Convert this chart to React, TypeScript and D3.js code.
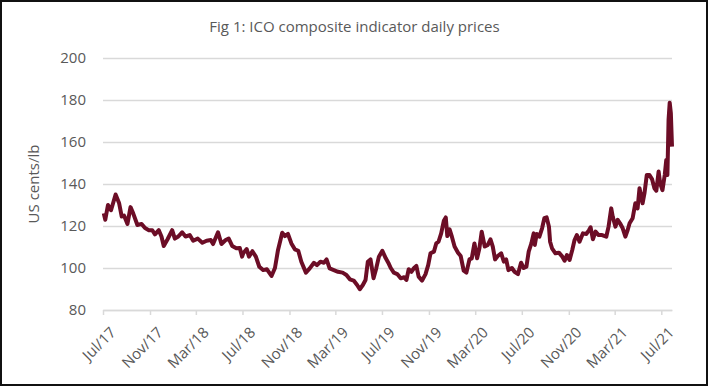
import * as d3 from 'd3';
import React, {useEffect, useRef} from "react";

const WIDTH = 709;
const HEIGHT = 387;
const MARGIN = {left: 103, right: 37, top: 58, bottom: 77};
const LINE_COLOR = "#6c0d26";
const TEXT_COLOR = "#595959";
const GRID_COLOR = "#d9d9d9";
const FONT = "'Open Sans', sans-serif";

const TITLE = "Fig 1: ICO composite indicator daily prices";
const Y_LABEL = "US cents/lb";
const Y_TICKS = [80, 100, 120, 140, 160, 180, 200];
const X_TICK_LABELS = ["Jul/17", "Nov/17", "Mar/18", "Jul/18", "Nov/18", "Mar/19", "Jul/19",
    "Nov/19", "Mar/20", "Jul/20", "Nov/20", "Mar/21", "Jul/21"];
const X_DOMAIN = ["2017-07-01", "2021-07-29"];

// ICO composite (US cents/lb)
const dates = [
    "2017-07-03", "2017-07-07", "2017-07-14", "2017-07-22", "2017-08-03", "2017-08-12", "2017-08-19", "2017-08-25",
    "2017-09-03", "2017-09-11", "2017-09-18", "2017-09-29", "2017-10-10", "2017-10-19", "2017-10-29", "2017-11-07",
    "2017-11-14", "2017-11-24", "2017-12-01", "2017-12-07", "2017-12-17", "2017-12-29", "2018-01-05", "2018-01-14",
    "2018-01-24", "2018-02-02", "2018-02-13", "2018-02-22", "2018-03-06", "2018-03-18", "2018-03-29", "2018-04-09",
    "2018-04-15", "2018-04-28", "2018-05-07", "2018-05-18", "2018-05-26", "2018-06-04", "2018-06-15", "2018-06-24",
    "2018-06-30", "2018-07-03", "2018-07-12", "2018-07-18", "2018-07-27", "2018-08-05", "2018-08-14", "2018-08-24",
    "2018-09-03", "2018-09-15", "2018-09-24", "2018-10-02", "2018-10-13", "2018-10-20", "2018-10-28", "2018-11-06",
    "2018-11-15", "2018-11-24", "2018-12-02", "2018-12-14", "2018-12-24", "2019-01-04", "2019-01-12", "2019-01-21",
    "2019-01-30", "2019-02-06", "2019-02-14", "2019-02-25", "2019-03-08", "2019-03-20", "2019-03-30", "2019-04-08",
    "2019-04-18", "2019-04-27", "2019-05-04", "2019-05-12", "2019-05-19", "2019-05-25", "2019-06-01", "2019-06-09",
    "2019-06-16", "2019-06-23", "2019-07-02", "2019-07-11", "2019-07-19", "2019-07-24", "2019-08-01", "2019-08-10",
    "2019-08-19", "2019-08-28", "2019-09-03", "2019-09-09", "2019-09-16", "2019-09-23", "2019-09-29", "2019-10-05",
    "2019-10-14", "2019-10-23", "2019-10-30", "2019-11-05", "2019-11-14", "2019-11-20", "2019-11-26", "2019-12-03",
    "2019-12-10", "2019-12-15", "2019-12-19", "2019-12-25", "2019-12-31", "2020-01-07", "2020-01-16", "2020-01-23",
    "2020-01-31", "2020-02-07", "2020-02-15", "2020-02-21", "2020-02-28", "2020-03-06", "2020-03-12", "2020-03-18",
    "2020-03-26", "2020-04-03", "2020-04-10", "2020-04-16", "2020-04-22", "2020-04-29", "2020-05-08", "2020-05-15",
    "2020-05-21", "2020-05-27", "2020-06-05", "2020-06-12", "2020-06-21", "2020-06-29", "2020-07-06", "2020-07-13",
    "2020-07-19", "2020-07-26", "2020-08-01", "2020-08-04", "2020-08-09", "2020-08-16", "2020-08-23", "2020-08-29",
    "2020-09-04", "2020-09-10", "2020-09-13", "2020-09-18", "2020-09-27", "2020-10-06", "2020-10-15", "2020-10-21",
    "2020-10-27", "2020-11-03", "2020-11-10", "2020-11-16", "2020-11-22", "2020-11-29", "2020-12-08", "2020-12-17",
    "2020-12-24", "2020-12-28", "2021-01-03", "2021-01-10", "2021-01-18", "2021-01-27", "2021-02-07", "2021-02-13",
    "2021-02-20", "2021-02-24", "2021-03-03", "2021-03-09", "2021-03-15", "2021-03-22", "2021-03-29", "2021-04-04",
    "2021-04-09", "2021-04-17", "2021-04-24", "2021-04-30", "2021-05-05", "2021-05-09", "2021-05-13", "2021-05-18",
    "2021-05-24", "2021-05-31", "2021-06-07", "2021-06-13", "2021-06-18", "2021-06-24", "2021-06-28", "2021-07-04",
    "2021-07-10", "2021-07-14", "2021-07-17", "2021-07-20", "2021-07-23", "2021-07-26", "2021-07-29"
];
const prices = [
    126, 123, 130, 127.5, 135, 131, 124.5, 125,
    121, 129, 126, 120.5, 121, 119, 118, 118,
    116, 118, 115, 110.5, 113.7, 118, 114, 115,
    117, 115, 115.7, 113, 114, 112, 113, 113.3,
    111.4, 117, 111.4, 113.3, 114, 110.5, 109.4, 109.5,
    105.4, 107, 109, 105.4, 108, 105.4, 100.6, 99,
    99.4, 96.2, 100, 108.6, 116.8, 115.2, 116.2, 111.7,
    108.9, 108.2, 103, 97.8, 99.8, 102.5, 101.4, 103,
    102.5, 104.1, 99.8, 99, 98.2, 97.8, 96.7, 94.6,
    94, 91.9, 89.9, 91.9, 94.3, 103, 104.1, 95.1,
    99.8, 105.4, 108.2, 104.6, 102, 100, 97.8, 97.1,
    95.1, 95.6, 94.3, 99.4, 98.2, 100, 101, 95.9,
    94, 97.1, 101.4, 107, 107.8, 111.7, 112.5, 116.5,
    122.5, 124.1, 115.2, 118.4, 114.9, 110.2, 107.3, 105.7,
    98.7, 97.8, 104.1, 104.6, 111.7, 104.6, 109.4, 117.3,
    110.2, 111, 113.7, 110.2, 104.1, 105.7, 107, 103,
    104.1, 99, 100, 98.2, 97.1, 102.5, 100, 100.6,
    107.8, 111.7, 116.5, 111, 116.2, 114.9, 118.9, 123.7,
    124.1, 119.7, 112.5, 109.4, 107, 107.3, 105.4, 103.5,
    106.2, 103.8, 108.6, 113.3, 115.7, 112.5, 116.5, 116.2,
    118.1, 119.4, 113.7, 117.3, 115.7, 115.7, 114.9, 119.7,
    128.4, 124.4, 119.7, 122.9, 121.3, 118.9, 114.9, 118.1,
    121.3, 123.7, 130.8, 128.4, 138, 134.3, 130.8, 135.6,
    144.3, 144.3, 142.2, 138, 136.8, 145.9, 140.3, 137.1,
    144.3, 151.4, 144.3, 170.5, 178.7, 173.7, 157.8
];

const App: React.FC = () => {
    const svgRef = useRef<SVGSVGElement>(null);

    useEffect(() => {
        const parseDay = d3.timeParse("%Y-%m-%d");
        const parseTick = d3.timeParse("%b/%y");
        const data = dates.map((d, i) => ({date: parseDay(d) as Date, value: prices[i]}));

        const x = d3.scaleTime()
            .domain(X_DOMAIN.map(d => parseDay(d) as Date))
            .range([MARGIN.left, WIDTH - MARGIN.right]);
        const y = d3.scaleLinear()
            .domain([80, 200])
            .range([HEIGHT - MARGIN.bottom, MARGIN.top]);

        const root = d3.select(svgRef.current);
        root.selectAll('*').remove();

        root.append('rect')
            .attr('x', 1).attr('y', 1)
            .attr('width', WIDTH - 3).attr('height', HEIGHT - 3)
            .attr('fill', 'white')
            .attr('stroke', '#111')
            .attr('stroke-width', 2);

        root.append('text')
            .attr('x', WIDTH / 2)
            .attr('y', 32)
            .attr('text-anchor', 'middle')
            .attr('fill', TEXT_COLOR)
            .style('font-family', FONT)
            .style('font-size', '15px')
            .text(TITLE);

        // grid + y labels
        const yAxisG = root.append('g')
            .attr('transform', `translate(${MARGIN.left},0)`)
            .call(d3.axisLeft(y).tickValues(Y_TICKS).tickSize(-(WIDTH - MARGIN.left - MARGIN.right)).tickPadding(17));
        yAxisG.select('.domain').remove();
        yAxisG.selectAll('.tick line').attr('stroke', GRID_COLOR).attr('stroke-width', 1.5);
        yAxisG.selectAll('.tick text')
            .attr('fill', TEXT_COLOR)
            .style('font-family', FONT)
            .style('font-size', '15px');

        const xAxisG = root.append('g')
            .attr('transform', `translate(0,${HEIGHT - MARGIN.bottom})`)
            .call(d3.axisBottom(x)
                .tickValues(X_TICK_LABELS.map(t => parseTick(t) as Date))
                .tickFormat(d3.timeFormat("%b/%y") as any)
                .tickSize(5)
                .tickSizeOuter(0));
        xAxisG.select('.domain').attr('stroke', GRID_COLOR).attr('stroke-width', 1.5);
        xAxisG.selectAll('.tick line').attr('stroke', GRID_COLOR).attr('stroke-width', 1.5);
        xAxisG.selectAll('.tick text')
            .attr('fill', TEXT_COLOR)
            .attr('text-anchor', 'end')
            .attr('dy', '0.35em')
            .attr('transform', 'translate(4,14) rotate(-45)')
            .style('font-family', FONT)
            .style('font-size', '15px');

        root.append('text')
            .attr('transform', `translate(39,${(MARGIN.top + HEIGHT - MARGIN.bottom) / 2}) rotate(-90)`)
            .attr('text-anchor', 'middle')
            .attr('fill', TEXT_COLOR)
            .style('font-family', FONT)
            .style('font-size', '15px')
            .text(Y_LABEL);

        const line = d3.line<{date: Date, value: number}>()
            .x(d => x(d.date))
            .y(d => y(d.value));

        root.append('path')
            .datum(data)
            .attr('d', line)
            .attr('fill', 'none')
            .attr('stroke', LINE_COLOR)
            .attr('stroke-width', 4)
            .attr('stroke-linejoin', 'round');
    }, []);

    return (
        <svg ref={svgRef} width={WIDTH} height={HEIGHT}
             style={{position: 'absolute', left: 0, top: 0}}/>
    )
}

export default App;
